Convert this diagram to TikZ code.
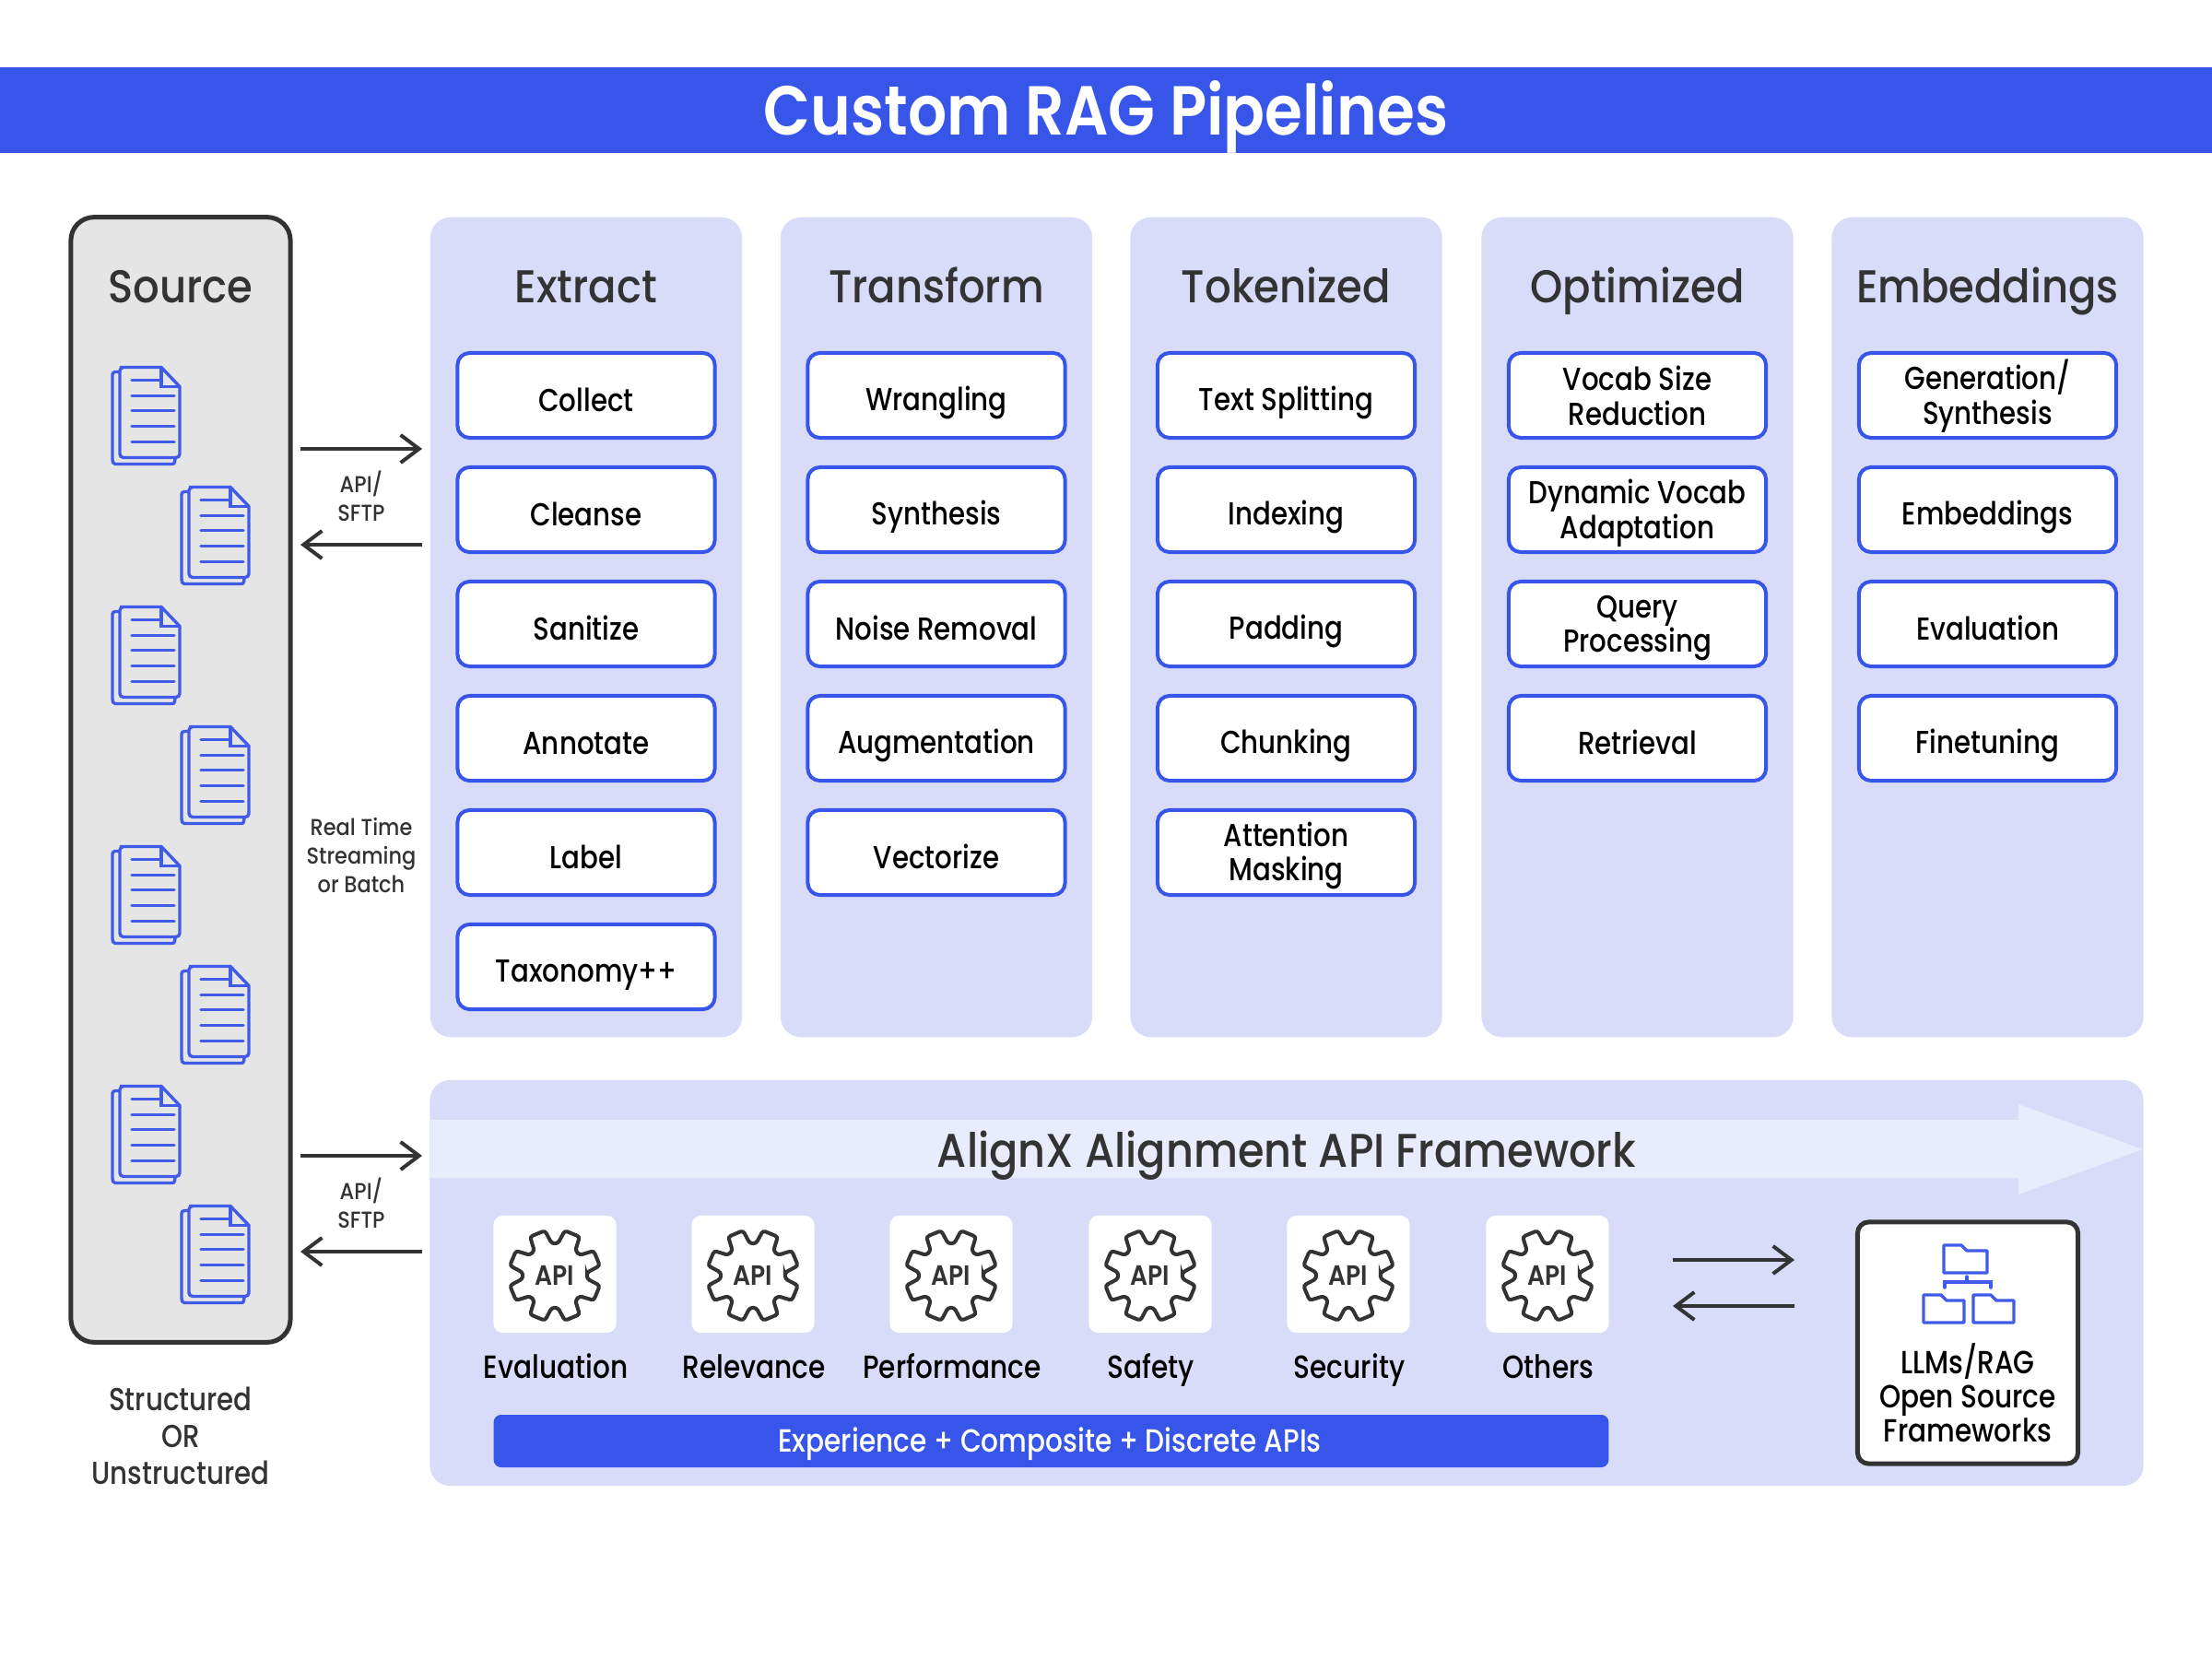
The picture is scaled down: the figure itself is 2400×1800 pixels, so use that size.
\documentclass[tikz,border=0pt]{standalone}
\usepackage{fontspec}
\usetikzlibrary{arrows.meta}
\setmainfont{Poppins}[FakeStretch=0.9]
\newfontfamily\medfont{Poppins Medium}[FakeStretch=0.9]
\newfontfamily\labelfont{Poppins Medium}[FakeStretch=0.85]
\newfontfamily\boldfont{Poppins SemiBold}[FakeStretch=0.88]
\newcommand{\topstrut}{\rule{0pt}{12pt}}
\newcommand{\twostrut}{\rule{0pt}{9.5pt}}
\newcommand{\botstrut}{\rule[-1.8pt]{0pt}{1pt}}
\definecolor{alignblue}{HTML}{3755E8}
\definecolor{iconblue}{HTML}{3F5BE8}
\definecolor{panelblue}{HTML}{D8DCF9}
\definecolor{bandblue}{HTML}{E9ECFC}
\definecolor{sourcegray}{HTML}{E5E5E5}
\definecolor{inkgray}{HTML}{333333}

\tikzset{
    docicon/.pic={
        \draw[iconline] (0,5) -- (-5,5) to[out=180,in=90] (-8,8) -- (-8,100) to[out=-90,in=180] (-5,105) -- (57,105) to[out=0,in=-90] (60,99);
        \draw[iconline,fill=sourcegray] (0,0) -- (45,0) -- (65,21) -- (65,94) to[out=-90,in=0] (61,98) -- (4,98) to[out=180,in=-90] (0,94) -- (0,4) to[out=90,in=180] (4,0);
        \draw[iconline] (45,0) -- (45,21) -- (65,21);
        \foreach \rowy/\rowx in {14/33,31/49,47/49,64/49,81/49}
            \draw[iconline,line cap=round] (13,\rowy) -- (13+\rowx-3,\rowy);
    },
    gearicon/.pic={
        \draw[gearline] (22.5-17:35)
            \foreach \ang in {22.5,67.5,...,337.5} {
                -- (\ang-17:35) -- (\ang-10:50) -- (\ang+10:50) -- (\ang+17:35)
            } -- cycle;
        \node[font=\fontsize{8.6}{10}\boldfont, text=inkgray, inner sep=0pt] (-apitext) at (0,0) {API};
    },
    foldericon/.pic={
        \draw[iconline,line join=round] (0,0) -- (19,0) -- (25,6) -- (\pgfkeysvalueof{/tikz/folderw},6) -- (\pgfkeysvalueof{/tikz/folderw},30) -- (0,30) -- cycle;
    },
    folderw/.initial=46
}

\begin{document}
\begin{tikzpicture}[
    x=0.01cm,
    y=-0.01cm,
    panel/.style={fill=panelblue, rounded corners=0.22cm, inner sep=0pt},
    stagebox/.style={draw=alignblue, fill=white, line width=0.04cm, rounded corners=0.13cm, minimum width=2.79cm, minimum height=0.92cm, inner sep=0pt, align=center, font=\fontsize{9.8}{10.7}\labelfont, text=black, execute at begin node=\topstrut, execute at end node=\botstrut},
    coltitle/.style={font=\fontsize{14.2}{17}\medfont, text=inkgray, inner sep=0pt, anchor=base},
    smalltext/.style={font=\fontsize{7.1}{8.7}\medfont, text=inkgray, inner sep=0pt, align=center},
    apilabel/.style={font=\fontsize{9.9}{12}\labelfont, text=black, inner sep=0pt, anchor=base},
    iconline/.style={draw=iconblue, line width=0.034cm},
    gearline/.style={draw=inkgray, line width=0.04cm, rounded corners=0.03cm},
    linkarrow/.style={draw=inkgray, line width=0.035cm, -{Straight Barb[length=0.2cm,width=0.3cm,line width=0.04cm]}}
]

\useasboundingbox (0,0) rectangle (2400,1800);

% title band
\node[fill=alignblue, minimum width=24cm, minimum height=0.93cm, inner sep=0pt] (header) at (1200,119.5) {};
\node[font=\fontsize{21.4}{26}\boldfont, text=white, inner sep=0pt, anchor=base] (headertext) at (1200,147) {Custom RAG Pipelines};

% source column
\node[draw=inkgray, fill=sourcegray, line width=0.05cm, rounded corners=0.25cm, minimum width=2.38cm, minimum height=12.2cm, inner sep=0pt] (source) at (196,846) {};
\node[coltitle] (sourcetitle) at (196,328) {Source};
\foreach \k in {0,...,7} {
    \pgfmathsetmacro{\docx}{130+75*mod(\k,2)}
    \pgfmathsetmacro{\docy}{398.5+130*\k}
    \pic (doc\k) at (\docx,\docy) {docicon};
}
\node[font=\fontsize{9.8}{11.3}\labelfont, text=inkgray, align=center, inner sep=0pt] (sourcenote) at (196,1552.5) {\topstrut Structured\\OR\\Unstructured\botstrut};

% stage columns
\foreach \col/\colx/\coltext/\items in {
    extract/636/Extract/{Collect,Cleanse,Sanitize,Annotate,Label,Taxonomy++},
    transform/1016/Transform/{Wrangling,Synthesis,Noise Removal,Augmentation,Vectorize},
    tokenized/1395.5/Tokenized/{Text Splitting,Indexing,Padding,Chunking,\twostrut Attention\\Masking},
    optimized/1776.5/Optimized/{\twostrut Vocab Size\\Reduction,\twostrut Dynamic Vocab\\Adaptation,\twostrut Query\\Processing,Retrieval},
    embeddings/2156.5/Embeddings/{\twostrut Generation/\\Synthesis,Embeddings,Evaluation,Finetuning}} {
    \node[panel, minimum width=3.38cm, minimum height=8.89cm] (\col) at (\colx,680.5) {};
    \node[coltitle] (\col title) at (\colx,328) {\coltext};
    \foreach \item [count=\i] in \items {
        \pgfmathsetmacro{\boxy}{429+124*(\i-1)}
        \node[stagebox] (\col\i) at (\colx,\boxy) {\item};
    }
}

% upper and lower links
\coordinate (srcA) at (326,487);
\coordinate (extA) at (458,487);
\coordinate (srcB) at (326,591);
\coordinate (extB) at (458,591);
\draw[linkarrow] (srcA) -- (extA);
\draw[linkarrow] (extB) -- (srcB);
\node[smalltext] (apiupper) at (392,538.5) {API/\\SFTP};
\node[smalltext] (modenote) at (392,928) {Real Time\\Streaming\\or Batch};
\coordinate (srcC) at (326,1254);
\coordinate (apiC) at (458,1254);
\coordinate (srcD) at (326,1358);
\coordinate (apiD) at (458,1358);
\draw[linkarrow] (srcC) -- (apiC);
\draw[linkarrow] (apiD) -- (srcD);
\node[smalltext] (apilower) at (392,1305.5) {API/\\SFTP};

% alignment framework
\node[panel, minimum width=18.58cm, minimum height=4.4cm] (framework) at (1396,1392) {};
\fill[bandblue] (467,1215) -- (2190,1215) -- (2190,1198) -- (2325,1247) -- (2190,1296) -- (2190,1278) -- (467,1278) -- cycle;
\node[font=\fontsize{14.6}{18}\medfont, text=inkgray, inner sep=0pt, anchor=base] (frameworktitle) at (1396,1266) {AlignX Alignment API Framework};

\foreach \api/\apix/\apitext in {
    evaluation/602/Evaluation,
    relevance/817/Relevance,
    performance/1032/Performance,
    safety/1248/Safety,
    security/1463/Security,
    others/1679/Others} {
    \node[fill=white, rounded corners=0.1cm, minimum width=1.33cm, minimum height=1.27cm, inner sep=0pt] (\api tile) at (\apix,1382.5) {};
    \pic (\api gear) at (\apix,1384) {gearicon};
    \node[apilabel] (\api label) at (\apix+1,1495.5) {\apitext};
}

\node[fill=alignblue, rounded corners=0.08cm, minimum width=12.09cm, minimum height=0.57cm, inner sep=0pt] (apibar) at (1140.5,1563.5) {};
\node[text=white, inner sep=0pt, anchor=base, font=\fontsize{9.9}{12}\labelfont] (apibartext) at (1139,1575) {Experience + Composite + Discrete APIs};

\coordinate (apiE) at (1815,1367);
\coordinate (llmE) at (1947,1367);
\coordinate (apiF) at (1815,1417);
\coordinate (llmF) at (1947,1417);
\draw[linkarrow] (apiE) -- (llmE);
\draw[linkarrow] (llmF) -- (apiF);

\node[draw=inkgray, fill=white, line width=0.05cm, rounded corners=0.12cm, minimum width=2.39cm, minimum height=2.62cm, inner sep=0pt] (llmbox) at (2135,1457) {};
\pic[folderw=47] (foldertop) at (2109,1351) {foldericon};
\pic[folderw=44] (folderleft) at (2087,1405) {foldericon};
\pic[folderw=44] (folderright) at (2141,1405) {foldericon};
\draw[iconline,line cap=round] (2134,1385) -- (2134,1391);
\draw[iconline,line cap=round] (2110,1397) -- (2110,1391) -- (2160,1391) -- (2160,1397);
\node[font=\fontsize{9.9}{10.6}\labelfont, text=black, align=center, inner sep=0pt] (llmtext) at (2135,1509.5) {\topstrut LLMs/RAG\\Open Source\\Frameworks\botstrut};

\end{tikzpicture}
\end{document}
